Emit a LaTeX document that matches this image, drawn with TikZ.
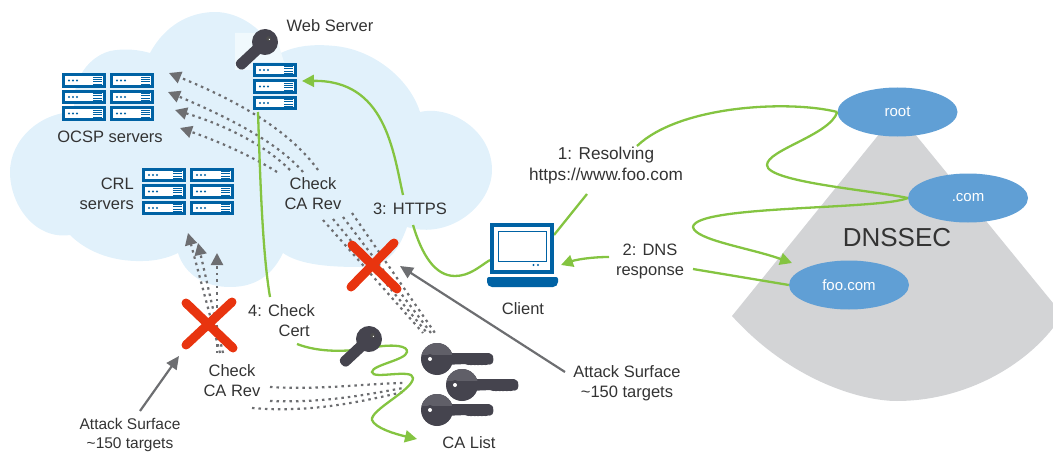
\documentclass[tikz,border=0pt]{standalone}
\usepackage{fontspec}
\setmainfont{Liberation Sans}
\usetikzlibrary{arrows.meta}
\usetikzlibrary{shapes.geometric}
\definecolor{cloud}{HTML}{E1F1FB}
\definecolor{pale}{HTML}{F0F9FD}
\definecolor{fan}{HTML}{D3D4D6}
\definecolor{zone}{HTML}{609FD5}
\definecolor{rack}{HTML}{0062A4}
\definecolor{wire}{HTML}{84C441}
\definecolor{cross}{HTML}{E8340F}
\definecolor{probe}{HTML}{6D6E71}
\definecolor{ink}{HTML}{333333}
\definecolor{keydark}{HTML}{45444E}
\definecolor{keylight}{HTML}{605F68}

\begin{document}
\begin{tikzpicture}[%
  x=1pt, y=-1pt,
  label/.style={text=ink, font=\fontsize{16.5}{20}\selectfont, align=center, inner sep=0pt},
  zonebox/.style={ellipse, fill=zone, text=white, minimum width=120, minimum height=49,
    inner sep=0pt, font=\fontsize{15}{18}\selectfont},
  serverbox/.style={rectangle, draw=rack, line width=3pt, fill=white, inner sep=0pt,
    minimum width=41, minimum height=11.5,
    path picture={
      \begin{scope}[shift={(path picture bounding box.center)}]
        \fill[rack] (-15,0) circle (1.2) (-11,0) circle (1.2) (-7,0) circle (1.2);
        \draw[rack, line width=0.9pt] (9,-3.5) -- (18,-3.5) (9,-1.2) -- (18,-1.2)
          (9,1.2) -- (18,1.2) (9,3.5) -- (18,3.5);
      \end{scope}}},
  greenline/.style={draw=wire, line width=2.3pt},
  greenarrow/.style={greenline, -{Triangle[length=12pt, width=12pt]}},
  probeline/.style={draw=probe, line width=2.2pt, dash pattern=on 2.5pt off 4pt},
  probearrow/.style={probeline, -{Triangle[length=12pt, width=12pt]}},
  attack/.style={draw=probe, line width=2.2pt, -{Triangle[length=13pt, width=12pt]}},
  crossline/.style={draw=cross, line width=9pt, line cap=round},
  pics/bigkey/.style={code={
    \fill[keydark, rounded corners=2pt] (5,-6) -- (54,-6) -- (57,-1) -- (55,6) -- (50,5)
      -- (47,7) -- (44,5) -- (40,7) -- (37,5) -- (33,7) -- (30,5) -- (5,6) -- cycle;
    \fill[keydark] (0,0) circle (16);
    \begin{scope}
      \clip (0,0) circle (16);
      \fill[keylight] (-16,-16) rectangle (16,-4);
    \end{scope}
    \fill[keydark] (-7,0) circle (5);
    \fill[white] (-7,0) circle (2);
  }},
  pics/smallkey/.style={code={
    \fill[keydark, rounded corners=3pt] (5,-5.5) -- (36,-5.5) -- (38,0) -- (36,5.5) -- (5,5.5) -- cycle;
    \fill[keydark] (0,0) circle (13);
    \fill[black!70] (-5,0) circle (2.5);
    \fill[white] (-5,-1) circle (0.8);
  }},
]

  \useasboundingbox (0,0) rectangle (1053,452);

  % Free ends
  \coordinate (resolvingtop) at (637,146);
  \coordinate (resolvingend) at (587,194);
  \coordinate (clientright) at (554,235);
  \coordinate (clientleft) at (490,260);
  \coordinate (clientport) at (561,265);
  \coordinate (responsetop) at (609,257);
  \coordinate (responseend) at (693,269);
  \coordinate (fooport) at (792,263);
  \coordinate (webport) at (302,81);
  \coordinate (httpstop) at (403,195);
  \coordinate (httpsend) at (413,225);
  \coordinate (webfoot) at (258,112);
  \coordinate (certtop) at (270,297);
  \coordinate (certend) at (297,344);
  \coordinate (listport) at (417,439);
  \coordinate (leftfoot) at (140,411);
  \coordinate (leftport) at (179,356);
  \coordinate (rightfoot) at (565,372);
  \coordinate (rightport) at (400,266);

  % Cloud
  \fill[cloud] (150,53) .. controls (165,25) and (190,12) .. (215,12)
    .. controls (240,12) and (265,30) .. (277,55)
    .. controls (295,45) and (315,44) .. (335,46)
    .. controls (375,50) and (410,80) .. (420,112)
    .. controls (450,105) and (492,130) .. (492,170)
    .. controls (492,205) and (450,240) .. (407,227)
    .. controls (397,255) and (385,267) .. (360,267)
    .. controls (330,267) and (300,265) .. (283,253)
    .. controls (270,280) and (250,287) .. (230,287)
    .. controls (205,287) and (185,275) .. (178,253)
    .. controls (168,258) and (155,261) .. (143,261)
    .. controls (110,262) and (85,250) .. (70,235)
    .. controls (35,240) and (10,205) .. (10,172)
    .. controls (10,140) and (40,112) .. (75,112)
    .. controls (70,85) and (85,58) .. (110,51)
    .. controls (125,48) and (140,50) .. (150,53) -- cycle;
  \fill[pale] (235,33) -- (275,33) -- (284,62) -- (253,62) -- (253,70) -- (235,70) -- cycle;

  % Zone fan
  \fill[fan] (897,112) -- (732,316) .. controls (790,380) and (860,401) .. (897,401)
    .. controls (960,401) and (1020,370) .. (1053,328) -- (1053,303) -- cycle;

  % Check CA Rev, upper
  \draw[probearrow] (318,170) .. controls (300,145) and (265,112) .. (169,73);
  \draw[probearrow] (303,172) .. controls (280,145) and (235,120) .. (168,92);
  \draw[probearrow] (290,170) .. controls (265,145) and (225,125) .. (175,110);
  \draw[probearrow] (277,172) .. controls (250,155) and (215,140) .. (180,128);
  \draw[probeline] (323,220) -- (423,333);
  \draw[probeline] (333,219) -- (427,333);
  \draw[probeline] (343,217) -- (431,333);
  \draw[probeline] (352,213) -- (435,333);

  % Check CA Rev, lower
  \draw[probearrow] (220,353) -- (188,233);
  \draw[probearrow] (223,353) -- (198,243);
  \draw[probearrow] (217,353) -- (217,253);
  \draw[probeline] (270,387) .. controls (320,390) and (360,384) .. (403,383);
  \draw[probeline] (270,401) .. controls (320,403) and (360,396) .. (403,388);
  \draw[probeline] (252,408) .. controls (310,413) and (360,402) .. (403,392);

  % Servers
  \node[serverbox] (ocsp11) at (84,80.5) {};
  \node[serverbox] (ocsp12) at (84,97) {};
  \node[serverbox] (ocsp13) at (84,113.5) {};
  \node[serverbox] (ocsp21) at (132,80.5) {};
  \node[serverbox] (ocsp22) at (132,97) {};
  \node[serverbox] (ocsp23) at (132,113.5) {};
  \node[serverbox] (crl11) at (164,175) {};
  \node[serverbox] (crl12) at (164,191.5) {};
  \node[serverbox] (crl13) at (164,208) {};
  \node[serverbox] (crl21) at (212,175) {};
  \node[serverbox] (crl22) at (212,191.5) {};
  \node[serverbox] (crl23) at (212,208) {};
  \node[serverbox] (web1) at (275,70) {};
  \node[serverbox] (web2) at (275,86.5) {};
  \node[serverbox] (web3) at (275,103) {};

  % Zones
  \node[zonebox] (root) at (897.5,112) {root};
  \node[zonebox] (com) at (968,198) {.com};
  \node[zonebox] (foo) at (849,285) {foo.com};

  % Green paths
  \draw[greenline] (resolvingtop) .. controls (680,105) and (790,100) .. (root.west);
  \draw[greenline] (root.west) .. controls (830,135) and (767,150) .. (767,165)
    .. controls (767,182) and (870,190) .. (com.west);
  \draw[greenarrow] (com.west) .. controls (880,210) and (695,205) .. (693,227)
    .. controls (695,240) and (750,248) .. (fooport);
  \draw[greenline] (foo.west) -- (responseend);
  \draw[greenarrow] (responsetop) .. controls (590,257) and (575,260) .. (clientport);
  \draw[greenline] (clientright) -- (resolvingend);
  \draw[greenarrow] (httpstop) .. controls (393,150) and (385,80) .. (webport);
  \draw[greenline] (httpsend) .. controls (422,255) and (435,276) .. (455,276)
    .. controls (470,276) and (480,266) .. (clientleft);
  \draw[greenline] (webfoot) .. controls (260,170) and (262,250) .. (certtop);
  \draw[greenarrow] (certend) .. controls (320,353) and (350,352) .. (375,347)
    .. controls (395,344) and (408,346) .. (407,352)
    .. controls (406,360) and (372,365) .. (372,372)
    .. controls (372,380) and (413,368) .. (413,378)
    .. controls (413,390) and (370,410) .. (372,420)
    .. controls (375,428) and (395,434) .. (listport);

  % Attack Surface
  \draw[attack] (leftfoot) -- (leftport);
  \draw[attack] (rightfoot) -- (rightport);

  % Crosses
  \draw[crossline] (186,345) -- (232,302);
  \draw[crossline] (186,303) -- (233,348);
  \draw[crossline] (351,287) -- (394,243);
  \draw[crossline] (352,245) -- (397,289);

  % Keys
  \pic at (265,42) [rotate=223] {smallkey};
  \pic at (369,339) [rotate=223] {smallkey};
  \pic at (437,359) {bigkey};
  \pic at (462,385) {bigkey};
  \pic at (437,410) {bigkey};

  % Client
  \node[rectangle, draw=rack, line width=3.5pt, fill=white, minimum width=60, minimum height=47,
    inner sep=0pt] (client) at (522,248.5) {};
  \draw[rack, line width=0.8pt] (498,231) rectangle (546,261);
  \fill[rack] (533.5,265) circle (1.2) (538,265) circle (1.2);
  \fill[rack, rounded corners=2pt] (487,277) -- (558,277) -- (558,284) -- (555,287) -- (490,287)
    -- (487,284) -- cycle;

  % Labels
  \node[label] (webserver) at (330,26) {Web Server};
  \node[label] (ocsp) at (110,137) {OCSP servers};
  \node[label, align=right, anchor=east] (crl) at (134,194) {CRL\\servers};
  \node[label] (revupper) at (313,194) {Check\\CA Rev};
  \node[label] (https) at (410,209) {3: HTTPS};
  \node[label, align=right, anchor=east] (checkcert) at (315,321) {4: Check\\Cert\hspace*{5pt}};
  \node[label] (revlower) at (232,381) {Check\\CA Rev};
  \node[label, font=\fontsize{15.5}{19}\selectfont] (attackleft) at (130,434.5) {Attack Surface\\\textasciitilde150 targets};
  \node[label] (attackright) at (627,383) {Attack Surface\\\textasciitilde150 targets};
  \node[label] (calist) at (469,443) {CA List};
  \node[label] (clientname) at (523,309) {Client};
  \node[label, font=\fontsize{17.2}{21}\selectfont] (resolving) at (606,166) {1: Resolving\\https://www.foo.com};
  \node[label] (response) at (650,261.5) {2: DNS\\response};
  \node[label, font=\fontsize{26}{30}\selectfont] (dnssec) at (897,238) {DNSSEC};

\end{tikzpicture}
\end{document}
